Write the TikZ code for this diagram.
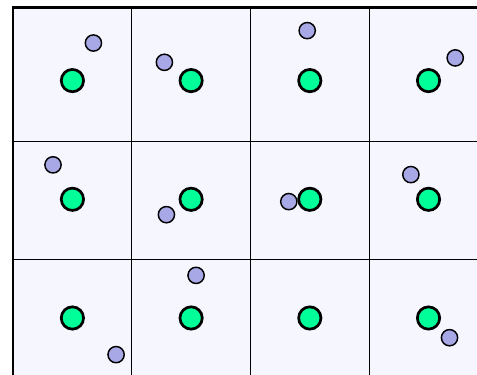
\documentclass[tikz,border=0pt]{standalone}
\usetikzlibrary{positioning}
\definecolor{cellbg}{RGB}{246,246,255}
\definecolor{ionc}{RGB}{0,255,153}
\definecolor{elcc}{RGB}{168,168,230}
\tikzset{
  ion/.style={circle,draw=black,line width=1.3pt,fill=ionc,inner sep=0pt,
              minimum size=3.76mm},
  elc/.style={circle,draw=black,line width=.7pt,fill=elcc,inner sep=0pt,
              minimum size=2.74mm},
  grd/.style={line width=.6pt},
  frm/.style={line width=1.2pt,line join=miter},
}
\begin{document}
\begin{tikzpicture}
  \useasboundingbox (0,0) rectangle (8.037,6.318);
  \fill[cellbg] (0.22,0) rectangle (8.037,6.19);
  % cell borders
  \foreach \x in {2.22,4.22,6.22}
     \draw[grd] (\x,0) -- (\x,6.19);
  \foreach \y in {1.94,3.94}
     \draw[grd] (0.22,\y) -- (8.037,\y);
  \draw[frm] (0.22,0) -- (0.22,6.19) -- (8.037,6.19);
  % displaced particles (drawn first, sites go on top)
  \foreach \c/\r/\dx/\dy in {0/2/0.354/0.633, 1/2/-0.45/0.308, 2/2/-0.044/0.842,
      3/2/0.45/0.382, 0/1/-0.327/0.58, 1/1/-0.416/-0.259, 2/1/-0.354/-0.039,
      3/1/-0.297/0.416, 0/0/0.736/-0.617, 1/0/0.084/0.718, 3/0/0.354/-0.332}
     \node[elc] (e\c\r) at ({1.22+2*\c+\dx},{0.96+2*\r+\dy}){};
  % lattice sites
  \foreach \c in {0,...,3}
     \foreach \r in {0,1,2}
        \node[ion] (i\c\r) at ({1.22+2*\c},{0.96+2*\r}){};
\end{tikzpicture}
\end{document}
